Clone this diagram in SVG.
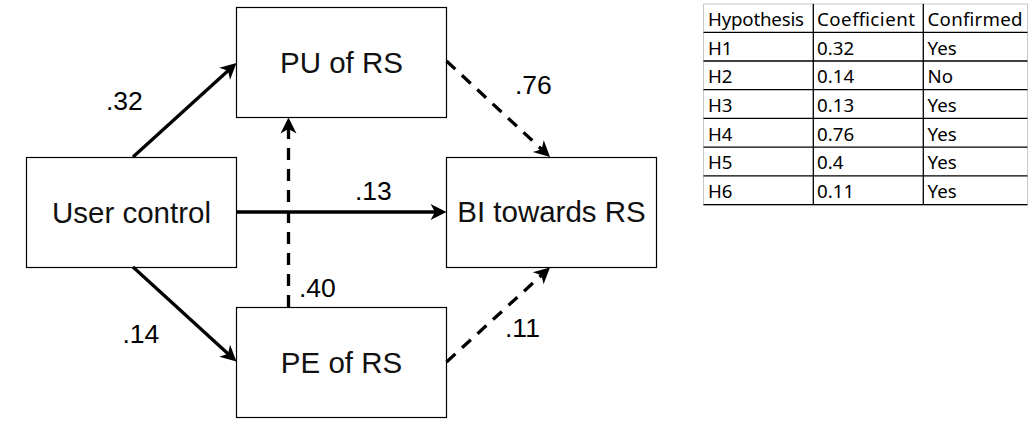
<svg xmlns="http://www.w3.org/2000/svg" width="1031" height="427" viewBox="0 0 1031 427">
<style>
.box{fill:#fff;stroke:#000;stroke-width:1.2}
.nt{font-family:"Liberation Sans",Arial,sans-serif;font-size:29.5px;fill:#111;text-anchor:middle}
.lb{font-family:"Liberation Sans",Arial,sans-serif;font-size:26.5px;fill:#000}
.c{fill:none;stroke:#000;stroke-width:3.3}
.d{stroke-dasharray:12 9}
.tt{font-family:"Noto Sans","Open Sans",sans-serif;font-size:18.7px;fill:#000}
.tl{stroke:#000;stroke-width:1.3}
</style>
<defs>
<marker id="ah" markerUnits="userSpaceOnUse" viewBox="-8 -9 20 18" refX="0" refY="0" markerWidth="20" markerHeight="18" orient="auto">
<path d="M10,0 L-6,-8 L-1.5,0 L-6,8 Z" fill="#000"/>
</marker>
</defs>
<g id="node-pu"><rect class="box" x="236.5" y="7.5" width="210" height="110"/><text class="nt" x="341.5" y="73">PU of RS</text></g>
<g id="node-uc"><rect class="box" x="26.5" y="157.5" width="210" height="110"/><text class="nt" x="131.5" y="223">User control</text></g>
<g id="node-bi"><rect class="box" x="446.5" y="157.5" width="210" height="110"/><text class="nt" x="551.5" y="222">BI towards RS</text></g>
<g id="node-pe"><rect class="box" x="236.5" y="307.5" width="210" height="110"/><text class="nt" x="341.5" y="373">PE of RS</text></g>
<g id="connectors">
<line class="c" x1="133" y1="157" x2="229.1" y2="69.7" marker-end="url(#ah)"/>
<line class="c" x1="133" y1="267" x2="229.1" y2="354.8" marker-end="url(#ah)"/>
<line class="c" x1="236.5" y1="212" x2="436.5" y2="212" marker-end="url(#ah)"/>
<line class="c d" x1="288.5" y1="307" x2="288.5" y2="127.5" marker-end="url(#ah)"/>
<line class="c d" x1="446.5" y1="61" x2="542.7" y2="150.2" marker-end="url(#ah)"/>
<line class="c d" x1="446.5" y1="362" x2="542.6" y2="274.2" marker-end="url(#ah)"/>
</g>
<g id="labels">
<text class="lb" x="106" y="110">.32</text>
<text class="lb" x="122.5" y="343">.14</text>
<text class="lb" x="355" y="200">.13</text>
<text class="lb" x="299" y="297">.40</text>
<text class="lb" x="515" y="94">.76</text>
<text class="lb" x="505" y="337">.11</text>
</g>
<g id="table">
<rect x="703.5" y="4" width="324" height="201" fill="#fff" stroke="#c8c8c8" stroke-width="1"/>
<line class="tl" x1="703.5" y1="32.3" x2="1027.5" y2="32.3"/>
<line class="tl" x1="703.5" y1="61" x2="1027.5" y2="61"/>
<line class="tl" x1="703.5" y1="89.7" x2="1027.5" y2="89.7"/>
<line class="tl" x1="703.5" y1="118.4" x2="1027.5" y2="118.4"/>
<line class="tl" x1="703.5" y1="147.1" x2="1027.5" y2="147.1"/>
<line class="tl" x1="703.5" y1="175.8" x2="1027.5" y2="175.8"/>
<line class="tl" x1="703.5" y1="204.6" x2="1027.5" y2="204.6"/>
<line class="tl" x1="813.3" y1="4" x2="813.3" y2="205"/>
<line class="tl" x1="923.3" y1="4" x2="923.3" y2="205"/>
<text class="tt" x="708" y="26" textLength="96">Hypothesis</text>
<text class="tt" x="817" y="26" textLength="98">Coefficient</text>
<text class="tt" x="927.5" y="26" textLength="95">Confirmed</text>
<text class="tt" x="708" y="54.5">H1</text><text class="tt" x="817" y="54.5">0.32</text><text class="tt" x="927.5" y="54.5">Yes</text>
<text class="tt" x="708" y="83.2">H2</text><text class="tt" x="817" y="83.2">0.14</text><text class="tt" x="927.5" y="83.2">No</text>
<text class="tt" x="708" y="111.9">H3</text><text class="tt" x="817" y="111.9">0.13</text><text class="tt" x="927.5" y="111.9">Yes</text>
<text class="tt" x="708" y="140.6">H4</text><text class="tt" x="817" y="140.6">0.76</text><text class="tt" x="927.5" y="140.6">Yes</text>
<text class="tt" x="708" y="169.3">H5</text><text class="tt" x="817" y="169.3">0.4</text><text class="tt" x="927.5" y="169.3">Yes</text>
<text class="tt" x="708" y="198">H6</text><text class="tt" x="817" y="198">0.11</text><text class="tt" x="927.5" y="198">Yes</text>
</g>
</svg>
